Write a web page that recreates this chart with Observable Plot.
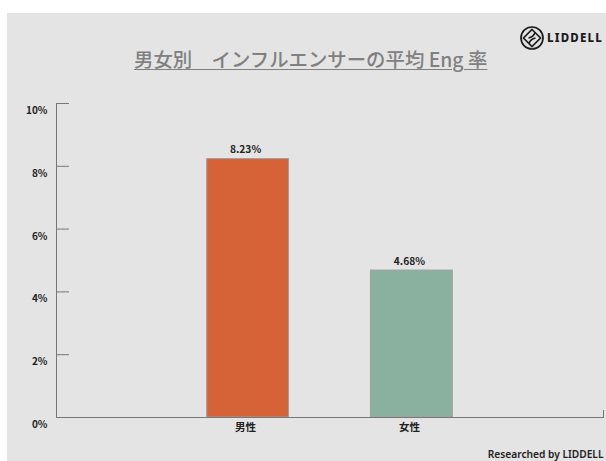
<!DOCTYPE html>
<html lang="ja">
<head>
<meta charset="utf-8">
<script src="https://cdn.jsdelivr.net/npm/d3@7"></script>
<script src="https://cdn.jsdelivr.net/npm/@observablehq/plot@0.6"></script>
<style>
  html, body { margin: 0; padding: 0; background: #fff; }
  body { width: 606px; height: 461px; overflow: hidden; position: relative; font-family: "Noto Sans CJK JP", sans-serif; }
  #panel { position: absolute; left: 7px; top: 13px; right: 0; bottom: 0; background: #e4e4e4; }
  #chart { position: absolute; left: 0; top: 0; }
  #chart svg { background: transparent; display: block; }
  #title { position: absolute; left: 134px; top: 45px; font-size: 19.4px; line-height: 28px; color: #808080; font-weight: 500; white-space: pre; text-decoration: underline; text-decoration-thickness: 1.2px; text-underline-offset: 2px; }
  #brand { position: absolute; left: 519.5px; top: 25.5px; display: flex; align-items: center; gap: 3.5px; font-family: "Noto Sans", sans-serif; font-weight: 800; font-size: 11.5px; letter-spacing: 1.2px; color: #1c1c1c; white-space: pre; }
  #credit { position: absolute; right: 2.5px; top: 447px; font-size: 10.2px; line-height: 14px; font-weight: 600; color: #222; font-family: "Noto Sans", sans-serif; }
</style>
</head>
<body>
<div id="panel"></div>
<div id="chart"></div>
<div id="title">男女別　インフルエンサーの平均 Eng 率</div>
<div id="brand"><svg width="24" height="24" viewBox="0 0 24 24" fill="none" stroke="#1c1c1c" stroke-width="1.7"><circle cx="12" cy="12" r="11"/><path d="M12 3.5 L20.5 12 L12 20.5 L3.5 12 Z"/><path d="M15 6.5 Q13.5 11 8.5 12 M15.5 12 Q10.5 13 9 17.5"/></svg><span>LIDDELL</span></div>
<div id="credit">Researched by LIDDELL</div>
<script>
// Average engagement rate of influencers, by gender
const genders = ["男性", "女性"];
const rates = [8.23, 4.68];
const barColors = ["#d66238", "#8ab1a0"];
const rateTicks = [0, 2, 4, 6, 8, 10];

const rows = genders.map((gender, i) => ({gender, rate: rates[i]}));
const ink = "#222";
const axisGrey = "#777";

const plot = Plot.plot({
  width: 606,
  height: 461,
  marginLeft: 56,
  marginRight: 3,
  marginTop: 103,
  marginBottom: 44,
  style: {background: "transparent", fontFamily: "'Noto Sans CJK JP', sans-serif"},
  x: {domain: genders, paddingInner: 0.5, paddingOuter: 0.92, align: 0.5, round: false, label: null},
  y: {domain: [0, 10], label: null},
  color: {domain: genders, range: barColors},
  marks: [
    Plot.barY(rows, {x: "gender", y: "rate", fill: "gender", stroke: "#a0a0a0", strokeWidth: 1}),
    Plot.frame({anchor: "left", stroke: axisGrey}),
    Plot.frame({anchor: "right", stroke: axisGrey, insetTop: 307}),
    Plot.ruleY([0], {stroke: axisGrey, strokeWidth: 1.2}),
    // Tick strokes sit on the values and point into the plot
    Plot.axisY({
      anchor: "left",
      ticks: rateTicks,
      tickSize: -13,
      stroke: axisGrey,
      tickFormat: () => "",
      label: null
    }),
    // Tick labels hang just below their strokes
    Plot.axisY({
      anchor: "left",
      ticks: rateTicks,
      tickSize: 0,
      tickPadding: 9,
      tickFormat: (d) => `${d}%`,
      fontSize: 10,
      fontWeight: 700,
      fill: ink,
      dy: 7.3,
      label: null
    }),
    Plot.axisX({
      anchor: "bottom",
      tickSize: 0,
      tickPadding: 6.5,
      fontSize: 10.5,
      fontWeight: 700,
      fill: ink,
      dx: -2.5,
      label: null
    }),
    Plot.text(rows, {
      x: "gender",
      y: "rate",
      text: (d) => `${d.rate.toFixed(2)}%`,
      dx: -2.5,
      dy: -9,
      fontSize: 10.2,
      fontWeight: 700,
      fill: ink
    })
  ]
});
document.getElementById("chart").append(plot);
</script>
</body>
</html>
